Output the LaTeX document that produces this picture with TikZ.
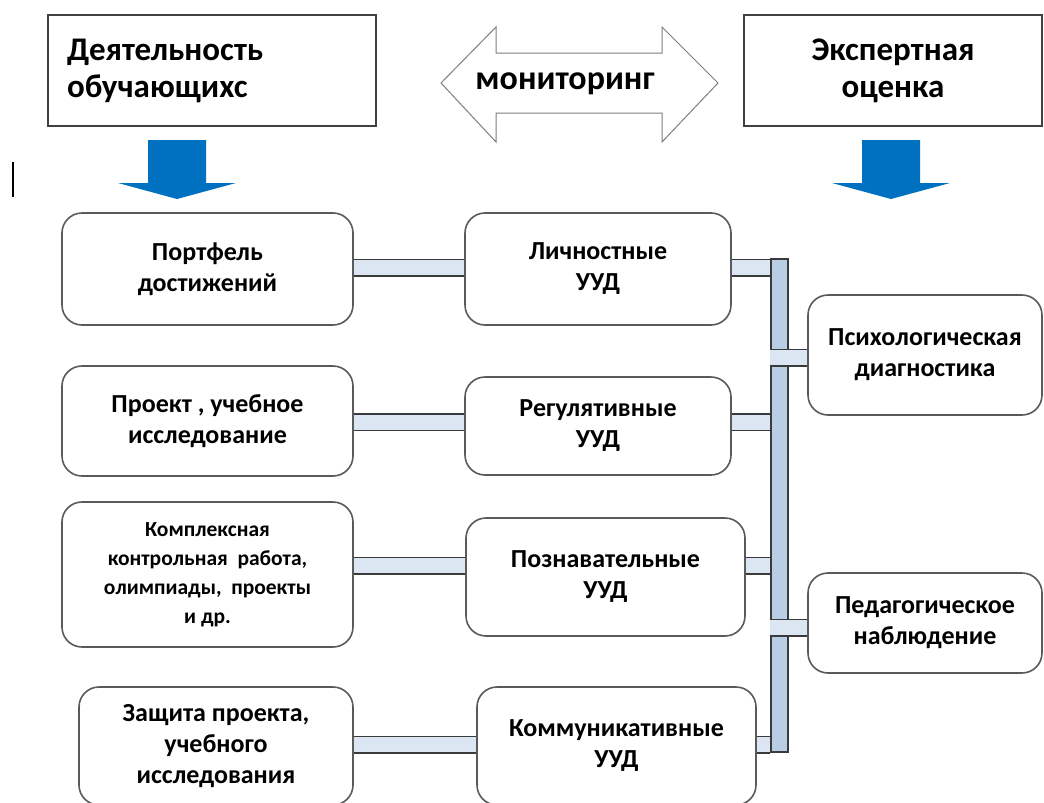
\documentclass[tikz,border=0pt]{standalone}
\usepackage{fontspec}
\setmainfont{Carlito}
\usepackage{xcolor}
\usetikzlibrary{positioning,calc}
\definecolor{headgray}{HTML}{404040}
\definecolor{boxgray}{HTML}{5A5A5A}
\definecolor{bardark}{HTML}{3A3A3A}
\definecolor{barlight}{HTML}{DCE6F2}
\definecolor{barmid}{HTML}{B9CDE5}
\definecolor{flowblue}{HTML}{0070C0}
\definecolor{arrowgray}{HTML}{7F7F7F}
\tikzset{
    head-box/.style={
        rectangle,
        draw=headgray,
        line width=1.8pt,
        minimum height=111pt,
        inner sep=0pt,
        font=\bfseries\fontsize{33}{37}\selectfont
    },
    stage-box/.style={
        rectangle,
        rounded corners=20pt,
        draw=boxgray,
        line width=1.6pt,
        align=center,
        inner sep=0pt,
        font=\bfseries\fontsize{26}{31}\selectfont
    },
    link-bar/.style={
        draw=bardark,
        line width=1.5pt,
        double=barlight,
        double distance=15pt
    },
    trunk-bar/.style={
        rectangle,
        draw=bardark,
        fill=barmid,
        line width=1.5pt,
        inner sep=0pt
    },
    flow-arrow/.style={
        fill=flowblue
    },
}

\begin{document}
\begin{tikzpicture}[x=1pt,y=1pt]
       \useasboundingbox (0,0) rectangle (1044,-803);
       \fill[white] (0,0) rectangle (1044,-803);

       % header
       \node[head-box,minimum width=328pt,text width=290pt,align=left] (act) at (212,-70.5) {Деятельность\\обучающихс};
       \node[head-box,minimum width=298pt,align=center] (expert) at (893,-70.5) {Экспертная\\оценка};
       \draw[arrowgray,line width=1pt] (441,-83) -- (496,-27) -- (496,-53) -- (662,-53) -- (662,-27)
             -- (718,-83) -- (662,-142) -- (662,-113) -- (496,-113) -- (496,-142) -- cycle;
       \node[font=\bfseries\fontsize{34}{37}\selectfont] (monitor) at (565,-84) {мониторинг};
       \foreach \cx in {177,891}
           \fill[flow-arrow] (\cx-29,-140) -- (\cx+29,-140) -- (\cx+29,-183) -- (\cx+59,-183)
                -- (\cx,-199) -- (\cx-59,-183) -- (\cx-29,-183) -- cycle;
       \coordinate (cursor-top) at (13,-162);
       \coordinate (cursor-bot) at (13,-197);
       \draw[line width=2.5pt] (cursor-top) -- (cursor-bot);

       % forms of work
       \node[stage-box,minimum width=291pt,minimum height=112pt] (l1) at (207.5,-269) {Портфель\\достижений};
       \node[stage-box,minimum width=291pt,minimum height=110pt] (l2) at (207.5,-421) {Проект , учебное\\исследование};
       \node[stage-box,minimum width=291pt,minimum height=145pt,font=\bfseries\fontsize{21.5}{29}\selectfont] (l3) at (207.5,-574.5)
             {Комплексная\\контрольная\ \ работа,\\олимпиады,\ \ проекты\\и др.};
       \node[stage-box,minimum width=274pt,minimum height=118pt] (l4) at (216,-746) {Защита проекта,\\учебного\\исследования};

       % UUD
       \node[stage-box,minimum width=266pt,minimum height=112pt] (m1) at (598,-269) {Личностные\\УУД};
       \node[stage-box,minimum width=266pt,minimum height=98pt] (m2) at (598,-426) {Регулятивные\\УУД};
       \node[stage-box,minimum width=279pt,minimum height=118pt] (m3) at (605.5,-577) {Познавательные\\УУД};
       \node[stage-box,minimum width=279pt,minimum height=118pt] (m4) at (616.5,-746) {Коммуникативные\\УУД};

       % expert methods
       \node[stage-box,minimum width=234pt,minimum height=120pt] (r1) at (925,-355) {Психологическая\\диагностика};
       \node[stage-box,minimum width=234pt,minimum height=100pt] (r2) at (925,-623) {Педагогическое\\наблюдение};

       \node[trunk-bar,minimum width=17pt,minimum height=493pt] (trunk) at (779.5,-505.5) {};

       \coordinate (row1) at (0,-267.5);
       \coordinate (row2) at (0,-422);
       \coordinate (row3) at (0,-565.5);
       \coordinate (row4) at (0,-744.5);
       \coordinate (tap1) at (0,-357.5);
       \coordinate (tap2) at (0,-627.5);

       \draw[link-bar] (l1.east |- row1) -- (m1.west |- row1);
       \draw[link-bar] (l2.east |- row2) -- (m2.west |- row2);
       \draw[link-bar] (l3.east |- row3) -- (m3.west |- row3);
       \draw[link-bar] (l4.east |- row4) -- (m4.west |- row4);
       \draw[link-bar] (m1.east |- row1) -- (trunk.west |- row1);
       \draw[link-bar] (m2.east |- row2) -- (trunk.west |- row2);
       \draw[link-bar] (m3.east |- row3) -- (trunk.west |- row3);
       \draw[link-bar] (m4.east |- row4) -- (trunk.west |- row4);
       \draw[link-bar] (trunk.west |- tap1) -- (r1.west |- tap1);
       \draw[link-bar] (trunk.west |- tap2) -- (r2.west |- tap2);
\end{tikzpicture}
\end{document}
